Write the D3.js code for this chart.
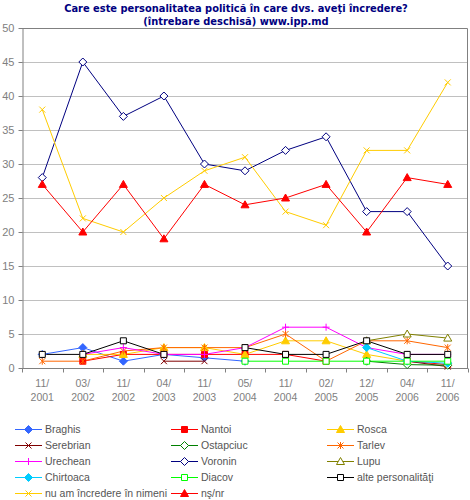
<!DOCTYPE html>
<html><head><meta charset="utf-8">
<script src="https://cdn.jsdelivr.net/npm/d3@7"></script>
<style>
body{margin:0;background:#fff;}
svg{display:block;font-family:"Liberation Sans",Arial,sans-serif;}
</style></head>
<body><svg id="c" width="470" height="500"></svg>
<script>
const titleLines = ["Care este personalitatea politică în care dvs. aveţi încredere?", "(întrebare deschisă) www.ipp.md"];
const categories = ["11/2001","03/2002","11/2002","04/2003","11/2003","05/2004","11/2004","02/2005","12/2005","04/2006","11/2006"];
const yTicks = [0,5,10,15,20,25,30,35,40,45,50];
const seriesNames = ["Braghis","Nantoi","Rosca","Serebrian","Ostapciuc","Tarlev","Urechean","Voronin","Lupu","Chirtoaca","Diacov","alte personalităţi","nu am încredere în nimeni","nş/nr"];
const braghis   = [2, 3, 1, 2, 1.5, 1, null, null, null, null, null];
const nantoi    = [null, 1, 2, 2, 2, 2, 2, 1, null, 1, 0.5];
const rosca     = [null, 2, 2, 3, 3, 2, 4, 4, 2, 1, null];
const serebrian = [null, null, null, 1, 1, null, null, null, null, 1, 0.2];
const ostapciuc = [null, null, null, null, null, null, null, null, 1, 0.5, 0.4];
const tarlev    = [1, 1, 2.5, 3, 3, 3, 5, 1, 4, 4, 3];
const urechean  = [null, 2, 3, 2, 2, 3, 6, 6, 3, 2, 2];
const voronin   = [28, 45, 37, 40, 30, 29, 32, 34, 23, 23, 15];
const lupu      = [null, null, null, null, null, null, null, null, 4, 5, 4.4];
const chirtoaca = [null, null, null, null, null, null, null, null, 3, 1, 0.7];
const diacov    = [null, null, null, null, null, 1, 1, 1, 1, 1, 1];
const alte      = [2, 2, 4, 2, null, 3, 2, 2, 4, 2, 2];
const nuAm      = [38, 22, 20, 25, 29, 31, 23, 21, 32, 32, 42];
const nsNr      = [27, 20, 27, 19, 27, 24, 25, 27, 20, 28, 27];

const seriesValues = [braghis,nantoi,rosca,serebrian,ostapciuc,tarlev,urechean,voronin,lupu,chirtoaca,diacov,alte,nuAm,nsNr];
const styles = [
  {c:"#3366FF", m:"diamond", f:true},
  {c:"#FF0000", m:"square", f:true},
  {c:"#FFCC00", m:"triangle", f:true},
  {c:"#800000", m:"x"},
  {c:"#008000", m:"diamond", f:false},
  {c:"#FF6600", m:"star"},
  {c:"#FF00FF", m:"plus"},
  {c:"#000080", m:"diamond", f:false},
  {c:"#808000", m:"triangle", f:false},
  {c:"#00CCFF", m:"diamond", f:true},
  {c:"#00FF00", m:"square", f:false},
  {c:"#000000", m:"square", f:false},
  {c:"#FFCC00", m:"x"},
  {c:"#FF0000", m:"triangle", f:true}
];

const svg = d3.select("#c");
const L=22, R=468, T=28, B=368;
const x = d3.scaleBand().domain(categories).range([L,R]);
const y = d3.scaleLinear().domain([0,50]).range([B,T]);
const cx = d => x(d) + x.bandwidth()/2;
const FONT = "'Liberation Sans',Arial,sans-serif";

// title
const tg = svg.append("g");
titleLines.forEach((t,i)=>{
  tg.append("text").attr("x",236).attr("y",12+i*13).attr("text-anchor","middle")
    .attr("font-weight","bold").attr("font-size",11.5).attr("fill","#000080")
    .attr("font-family","'DejaVu Sans Condensed','DejaVu Sans',sans-serif").text(t);
});
const t0 = tg.select("text").node();
const w0 = t0.getComputedTextLength();
if (w0>0) { const fs = 11.5*344/w0; tg.selectAll("text").attr("font-size", Math.min(fs,13)); }

// grid
svg.append("g").selectAll("line").data(yTicks.filter(v=>v>0&&v<50)).join("line")
  .attr("x1",L).attr("x2",R).attr("y1",d=>y(d)+0.5).attr("y2",d=>y(d)+0.5)
  .attr("stroke","#C0C0C0");
// border top/right
svg.append("path").attr("d",`M${L},${T+0.5}H${R-0.5}V${B}`).attr("fill","none").attr("stroke","#808080");

// y axis
const ya = svg.append("g").attr("transform",`translate(${L+0.5},0)`)
  .call(d3.axisLeft(y).tickValues(yTicks).tickSize(4).tickPadding(4).tickSizeOuter(0));
ya.select(".domain").attr("stroke","#808080");
ya.selectAll(".tick line").attr("stroke","#808080");
ya.selectAll(".tick text").attr("fill","#808080").attr("font-size",11).attr("font-family",FONT);

// x axis
const xa = svg.append("g").attr("transform",`translate(0,${B+0.5})`)
  .call(d3.axisBottom(x).tickSize(0).tickPadding(0).tickFormat(""));
xa.select(".domain").attr("stroke","#808080").attr("d",`M${L},0H${R}`);
const bounds = categories.map(c=>x(c)).concat([x(categories[categories.length-1])+x.bandwidth()]);
xa.selectAll(".btick").data(bounds).join("line").attr("class","btick")
  .attr("x1",d=>Math.round(d)+0.5).attr("x2",d=>Math.round(d)+0.5).attr("y1",0).attr("y2",4).attr("stroke","#808080");
const lab = svg.append("g").selectAll("text").data(categories).join("text")
  .attr("text-anchor","middle").attr("fill","#808080").attr("font-size",10.5)
  .attr("font-family",FONT);
lab.append("tspan").attr("x",d=>cx(d)).attr("y",387).text(d=>d.split("/")[0]+"/");
lab.append("tspan").attr("x",d=>cx(d)).attr("y",401).text(d=>d.split("/")[1]);

// markers
function marker(g, type, filled, color, px, py) {
  const s = 3.5;
  let p;
  if (type==="diamond") p=`M${px},${py-s-0.5}L${px+s+0.5},${py}L${px},${py+s+0.5}L${px-s-0.5},${py}Z`;
  else if (type==="square") p=`M${px-3},${py-3}h6v6h-6Z`;
  else if (type==="triangle") p=`M${px},${py-4}L${px+4},${py+3}L${px-4},${py+3}Z`;
  else if (type==="x") p=`M${px-3},${py-3}L${px+3},${py+3}M${px+3},${py-3}L${px-3},${py+3}`;
  else if (type==="plus") p=`M${px-3.5},${py}H${px+3.5}M${px},${py-3.5}V${py+3.5}`;
  else if (type==="star") p=`M${px-3},${py-3}L${px+3},${py+3}M${px+3},${py-3}L${px-3},${py+3}M${px},${py-3.5}V${py+3.5}`;
  const open = (type==="x"||type==="plus"||type==="star");
  g.append("path").attr("d",p)
    .attr("fill", open ? "none" : (filled ? color : "#fff"))
    .attr("stroke", color).attr("stroke-width",1);
}

const line = d3.line().defined(d=>d.v!=null).x(d=>cx(d.c)).y(d=>y(d.v));
const plot = svg.append("g");
seriesValues.forEach((vals,i)=>{
  const st = styles[i];
  const pts = vals.map((v,j)=>({c:categories[j], v}));
  plot.append("path").datum(pts).attr("d",line).attr("fill","none").attr("stroke",st.c).attr("stroke-width",1);
});
seriesValues.forEach((vals,i)=>{
  const st = styles[i];
  const g = plot.append("g");
  vals.forEach((v,j)=>{ if(v!=null) marker(g, st.m, st.f, st.c, cx(categories[j]), y(v)); });
});

// legend
const colX = [15,171,327];
const leg = svg.append("g");
seriesNames.forEach((n,i)=>{
  const col = i%3, row = Math.floor(i/3);
  const lx = colX[col], ly = 429 + row*16;
  const st = styles[i];
  const g = leg.append("g");
  g.append("line").attr("x1",lx).attr("x2",lx+27).attr("y1",ly+0.5).attr("y2",ly+0.5).attr("stroke",st.c);
  marker(g, st.m, st.f, st.c, lx+13.5, ly+0.5);
  g.append("text").attr("x",lx+30).attr("y",ly+4).attr("font-size",10.5).attr("fill","#555")
    .attr("font-family",FONT).text(n);
});
</script></body></html>
